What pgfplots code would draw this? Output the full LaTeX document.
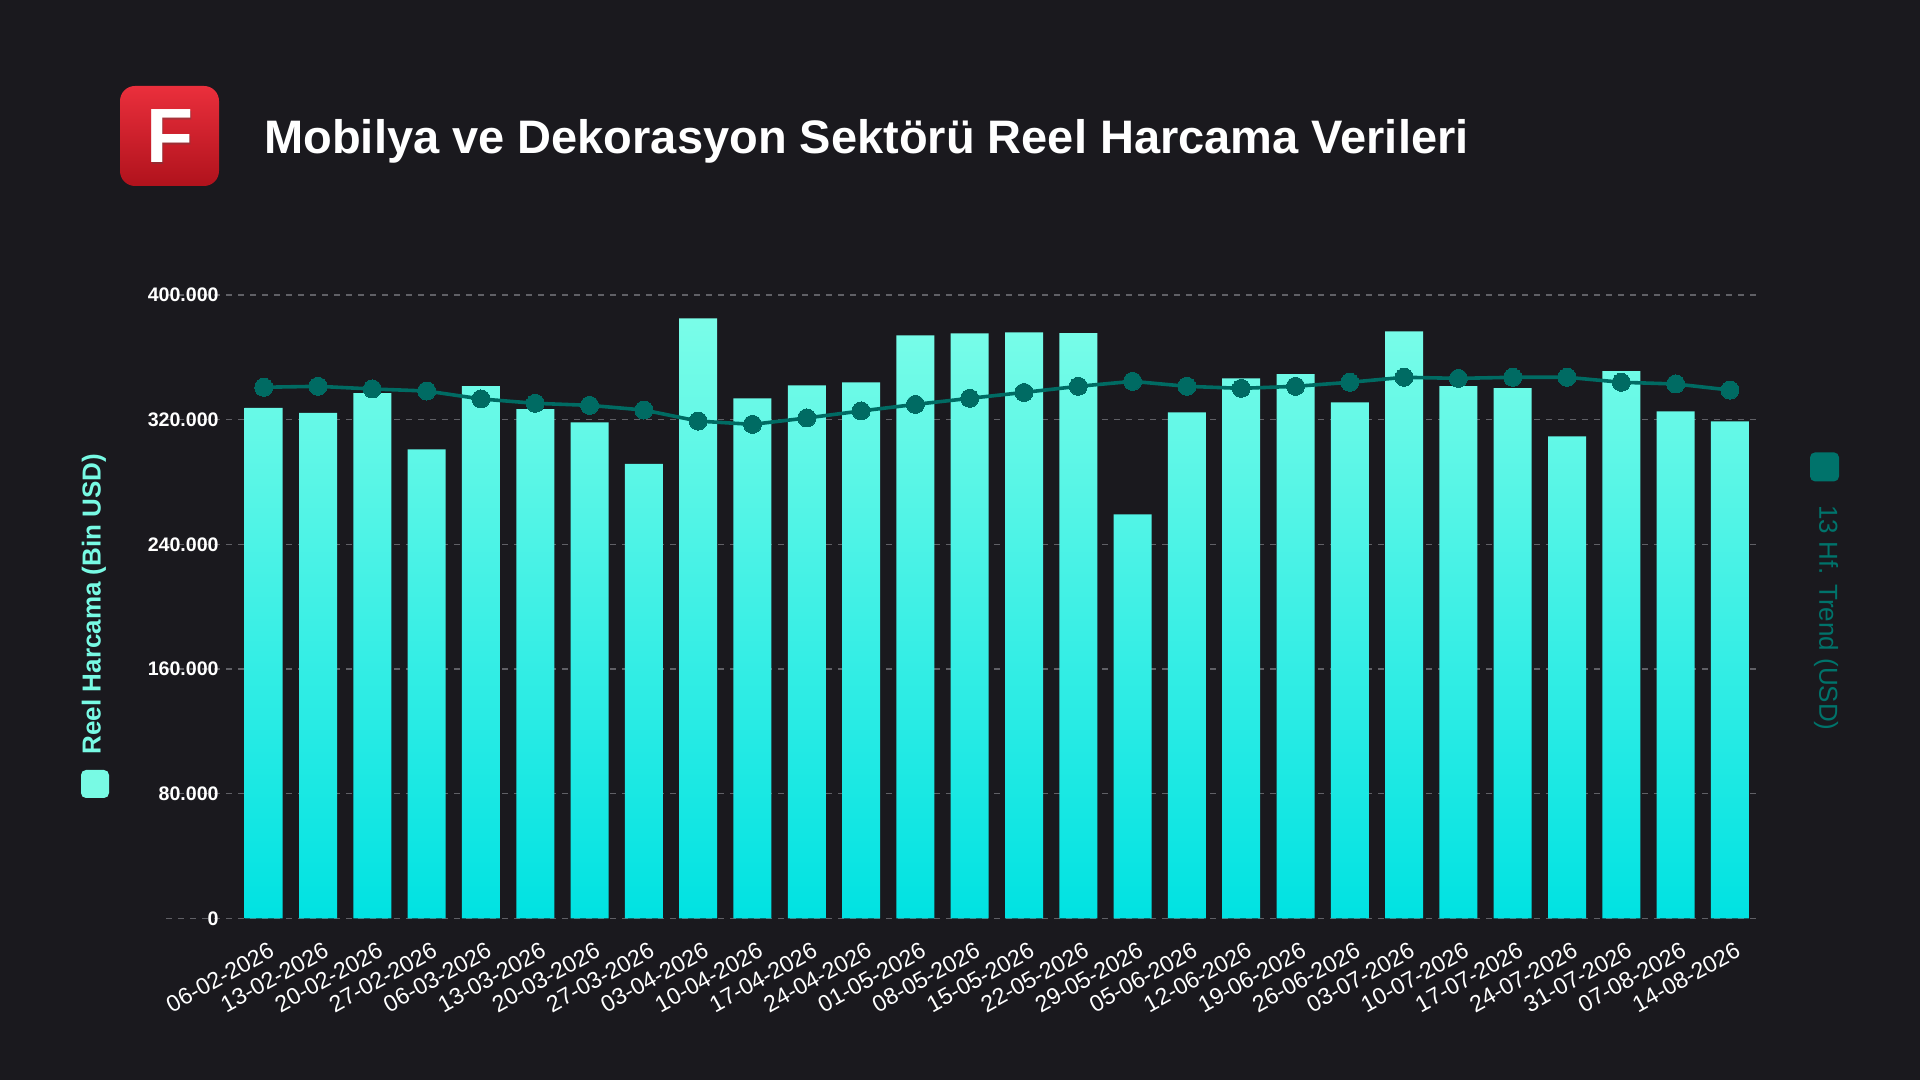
\documentclass[border=0pt]{standalone}
\usepackage{pgfplots}
\pgfplotsset{compat=1.18}
\usepackage{pgfplotstable}
\usepackage{fontspec}
\setmainfont{Liberation Sans}
\definecolor{bg}{HTML}{1A191E}
\definecolor{bartop}{HTML}{7AFDE8}
\definecolor{barbot}{HTML}{00E2E2}
\definecolor{trend}{HTML}{006B63}
\definecolor{gridc}{HTML}{606066}
\definecolor{lbl}{HTML}{78FAE4}
\definecolor{rlbl}{HTML}{00736B}
\definecolor{logoA}{HTML}{EA2F3C}
\definecolor{logoB}{HTML}{B0121C}

\pgfplotstableread{
x y
0 327500
1 324300
2 337100
3 301000
4 341600
5 326800
6 318300
7 291600
8 385000
9 333700
10 342000
11 344000
12 374100
13 375400
14 376000
15 375600
16 259300
17 324700
18 346500
19 349300
20 331100
21 376700
22 341600
23 340300
24 309300
25 351200
26 325400
27 318900
}\bars

\pgfplotstableread{
x y
0 340800
1 341400
2 339700
3 338400
4 333300
5 330500
6 329200
7 326200
8 319100
9 317000
10 321100
11 325600
12 329800
13 333700
14 337500
15 341400
16 344600
17 341400
18 340100
19 341400
20 344000
21 347200
22 346500
23 347200
24 347200
25 344000
26 342900
27 339000
}\trendt

\begin{document}
\begin{tikzpicture}
\fill[bg] (0pt,0pt) rectangle (960pt,540pt);
% logo
\shade[rounded corners=7.5pt, shading angle=45, top color=logoA, bottom color=logoB] (60pt,447pt) rectangle (109.5pt,497pt);
\node[text=black!70, opacity=0.35, font=\bfseries\fontsize{38.5}{40}\selectfont] at (85.6pt,470.9pt) {F};
\node[text=white, font=\bfseries\fontsize{38.5}{40}\selectfont] at (84.8pt,471.8pt) {F};
% title
\node[anchor=base west, text=white, inner sep=0pt, font=\bfseries\fontsize{23.5}{26}\selectfont] at (132pt,463.35pt) {Mobilya ve Dekorasyon Sektörü Reel Harcama Verileri};
% left label
\node[rotate=90, text=lbl, font=\bfseries\fontsize{13}{15}\selectfont, inner sep=0pt] at (47pt,238pt) {Reel Harcama (Bin USD)};
\fill[lbl, rounded corners=2.5pt] (40.5pt,141pt) rectangle (54.5pt,155pt);
% right label
\node[rotate=-90, text=rlbl, font=\fontsize{13}{15}\selectfont, inner sep=0pt] at (913pt,231pt) {13 Hf. Trend (USD)};
\fill[rlbl, rounded corners=2.5pt] (905pt,299.3pt) rectangle (919.5pt,313.8pt);

\begin{axis}[
  at={(83pt,80.75pt)}, anchor=south west,
  scale only axis, width=795pt, height=311.75pt,
  xmin=-1.8, xmax=27.48, ymin=0, ymax=400000,
  axis line style={draw=none},
  major tick style={draw=none},
  ytick={0,80000,160000,240000,320000,400000},
  ymajorgrids,
  grid style={gridc, dash pattern=on 3pt off 3pt, line width=0.65pt},
  scaled y ticks=false,
  yticklabel style={/pgf/number format/fixed, /pgf/number format/1000 sep={.}, /pgf/number format/assume math mode=true, text=white, font=\bfseries\fontsize{9.8}{11}\selectfont, anchor=east, inner sep=0pt, xshift=26.5pt},
  xtick={0,...,27},
  xticklabels={06-02-2026,13-02-2026,20-02-2026,27-02-2026,06-03-2026,13-03-2026,20-03-2026,27-03-2026,03-04-2026,10-04-2026,17-04-2026,24-04-2026,01-05-2026,08-05-2026,15-05-2026,22-05-2026,29-05-2026,05-06-2026,12-06-2026,19-06-2026,26-06-2026,03-07-2026,10-07-2026,17-07-2026,24-07-2026,31-07-2026,07-08-2026,14-08-2026},
  xticklabel style={text=white, font=\fontsize{11.6}{13}\selectfont, rotate=29, anchor=north east, inner sep=0pt, yshift=-10.8pt, xshift=-3.5pt},
  clip=false,
]
\addplot[ybar, bar width=19pt, draw=none, top color=bartop, bottom color=barbot] table[x=x,y=y] {\bars};
\addplot[trend, line width=1.8pt, mark=*, mark size=4.5pt, mark options={fill=trend, draw=trend, line width=0pt}] table[x=x,y=y] {\trendt};
\end{axis}
\end{tikzpicture}
\end{document}
